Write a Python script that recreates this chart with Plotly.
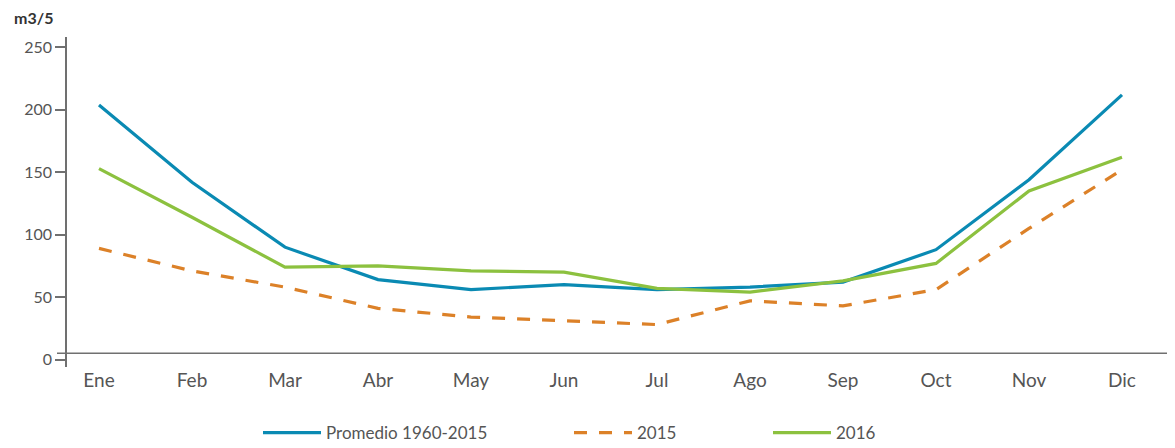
import plotly.graph_objects as go

months = ["Ene", "Feb", "Mar", "Abr", "May", "Jun", "Jul", "Ago", "Sep", "Oct", "Nov", "Dic"]
promedio = [204, 142, 90, 64, 56, 60, 56, 58, 62, 88, 144, 212]
y2015 = [89, 71, 58, 41, 34, 31, 28, 47, 43, 56, 105, 152]
y2016 = [153, 114, 74, 75, 71, 70, 57, 54, 63, 77, 135, 162]
yticks = [0, 50, 100, 150, 200, 250]

FONT = "Lato, Liberation Sans, sans-serif"
GREY = "#555555"
AX = "#707070"

# page has an 8px body margin; the figure is sized to end at the window edge
OFF = 8
W, H = 1175 - OFF, 448 - OFF
L, R, T, B = 67 - OFF, 0, 37 - OFF, 448 - 367
PW = W - L - R
PH = H - T - B

def px(p):
    return (p - OFF - L) / PW

def py(p):
    return 1 - (p - OFF - T) / PH

fig = go.Figure()
fig.add_trace(go.Scatter(x=months, y=promedio, mode="lines", name="Promedio 1960-2015",
                         line=dict(color="#0a8ab3", width=3.2), legend="legend"))
fig.add_trace(go.Scatter(x=months, y=y2015, mode="lines", name="2015",
                         line=dict(color="#dc8128", width=3.2, dash="13px,12px"), legend="legend2"))
fig.add_trace(go.Scatter(x=months, y=y2016, mode="lines", name="2016",
                         line=dict(color="#8cc13f", width=3.2), legend="legend3"))

# horizontal baseline
fig.add_shape(type="line", xref="paper", yref="y", x0=px(57), x1=1, y0=5, y1=5,
              line=dict(color=AX, width=1.5), layer="below")

fig.add_annotation(text="<b>m3/5</b>", xref="paper", yref="paper", x=px(12), y=py(17),
                   xanchor="left", yanchor="middle", showarrow=False,
                   font=dict(family=FONT, size=16, color="#333333"))

IW = 58
legfont = dict(family=FONT, size=17, color=GREY)
common = dict(orientation="h", yref="paper", xref="paper", yanchor="middle", xanchor="left",
              font=legfont, bgcolor="rgba(0,0,0,0)", itemwidth=IW)
ly = py(433)
fig.update_layout(
    width=W, height=H,
    margin=dict(l=L, r=R, t=T, b=B, autoexpand=False),
    paper_bgcolor="white", plot_bgcolor="white",
    showlegend=True,
    legend=dict(x=px(326 - IW - 10), y=ly, **common),
    legend2=dict(x=px(637 - IW - 10), y=ly, **common),
    legend3=dict(x=px(836 - IW - 10), y=ly, **common),
    xaxis=dict(range=[-0.344, 11.57], showgrid=False, zeroline=False, showline=False,
               ticks="", tickfont=dict(family=FONT, size=19, color=GREY), ticklabelstandoff=0),
    yaxis=dict(range=[-6, 258.4], tickvals=yticks, showgrid=False, zeroline=False,
               showline=True, linecolor=AX, linewidth=1.5, ticks="outside", ticklen=10,
               tickcolor=AX, tickwidth=1.5,
               tickfont=dict(family=FONT, size=16, color=GREY)),
)

fig.write_html("out.html")
